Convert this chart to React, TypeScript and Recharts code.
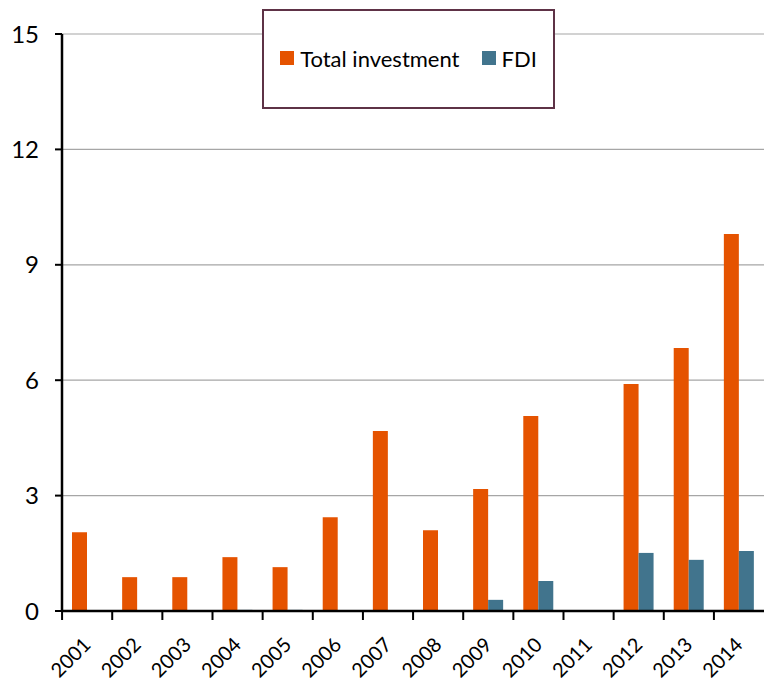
import { BarChart, Bar, XAxis, YAxis, CartesianGrid } from "recharts";

const YEARS = ["2001", "2002", "2003", "2004", "2005", "2006", "2007", "2008", "2009", "2010", "2011", "2012", "2013", "2014"];
const TOTAL = [2.05, 0.88, 0.88, 1.4, 1.14, 2.44, 4.68, 2.1, 3.17, 5.07, 0, 5.9, 6.84, 9.8];
const FDI = [0, 0, 0, 0.03, 0.03, 0, 0, 0, 0.29, 0.78, 0, 1.51, 1.33, 1.56];
const Y_TICKS = [0, 3, 6, 9, 12, 15];

const ORANGE = "#E55300";
const BLUE = "#41748D";
const FONT = "Lato, 'Open Sans', sans-serif";

const data = YEARS.map((year, i) => ({ year, total: TOTAL[i], fdi: FDI[i] }));

function YearTick(props: any) {
  const { x, y, payload } = props;
  const half = 25;
  const ax = x + 5;
  const ay = y + 27;
  return (
    <g>
      <line x1={x - half} x2={x - half} y1={y - 8} y2={y + 1} stroke="#000" strokeWidth={2} />
      <text
        x={ax}
        y={ay}
        textAnchor="end"
        transform={`rotate(-45, ${ax}, ${ay})`}
        fontSize={20}
        fontFamily={FONT}
        fill="#000"
      >
        {payload.value}
      </text>
    </g>
  );
}

function LegendBox() {
  return (
    <div
      style={{
        position: "absolute",
        left: 262,
        top: 9,
        width: 293,
        height: 100,
        border: "2px solid #5E3246",
        background: "#fff",
        display: "flex",
        alignItems: "center",
        justifyContent: "center",
        fontFamily: FONT,
        fontSize: 22,
        color: "#000",
        boxSizing: "border-box",
        paddingBottom: 2,
      }}
    >
      <span style={{ display: "inline-block", width: 14, height: 14, background: ORANGE, marginRight: 6 }} />
      <span style={{ marginRight: 22 }}>Total investment</span>
      <span style={{ display: "inline-block", width: 14, height: 14, background: BLUE, marginRight: 6 }} />
      <span>FDI</span>
    </div>
  );
}

export default function App() {
  return (
    <div style={{ position: "absolute", left: 0, top: 0, width: 765, height: 685, background: "#fff" }}>
      <BarChart
        width={765}
        height={685}
        data={data}
        margin={{ top: 34, right: 1, bottom: 0, left: 0 }}
        barGap={0}
        barCategoryGap={10}
      >
        <CartesianGrid vertical={false} stroke="#A6A6A6" strokeWidth={1.2} />
        <XAxis
          dataKey="year"
          height={74}
          interval={0}
          tickLine={false}
          axisLine={{ stroke: "#000", strokeWidth: 2.5 }}
          tick={<YearTick />}
        />
        <YAxis
          width={62}
          domain={[0, 15]}
          ticks={Y_TICKS}
          interval={0}
          tickSize={7}
          tickMargin={16}
          axisLine={{ stroke: "#000", strokeWidth: 2.5 }}
          tickLine={{ stroke: "#000", strokeWidth: 2 }}
          tick={{ fill: "#000", fontSize: 24, fontFamily: FONT }}
        />
        <Bar dataKey="total" name="Total investment" fill={ORANGE} barSize={15} isAnimationActive={false} />
        <Bar dataKey="fdi" name="FDI" fill={BLUE} barSize={15} isAnimationActive={false} />
      </BarChart>
      <LegendBox />
    </div>
  );
}
